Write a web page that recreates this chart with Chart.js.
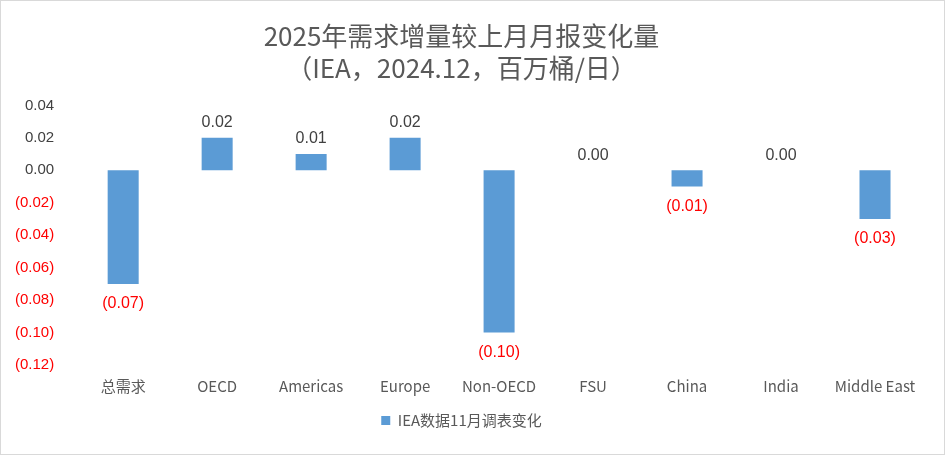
<!DOCTYPE html>
<html>
<head>
<meta charset="utf-8">
<script src="https://cdn.jsdelivr.net/npm/chart.js@4"></script>
<style>
  body { margin: 0; background: #fff; }
  #wrap { width: 943px; height: 453px; border: 1px solid #d9d9d9; }
</style>
</head>
<body>
<div id="wrap"><canvas id="myChart" width="943" height="453"></canvas></div>
<script>
'use strict';

let categories = ['总需求', 'OECD', 'Americas', 'Europe', 'Non-OECD', 'FSU', 'China', 'India', 'Middle East'];
let changes = [-0.07, 0.02, 0.01, 0.02, -0.10, 0.00, -0.01, 0.00, -0.03];
let seriesName = 'IEA数据11月调表变化';
let yMin = -0.12;
let yMax = 0.04;
let yStep = 0.02;

function fmt(v) {
  let s = Math.abs(v).toFixed(2);
  return v < -1e-9 ? '(' + s + ')' : s;
}

const labelPlugin = {
  id: 'barLabels',
  afterDatasetsDraw(chart) {
    let ctx = chart.ctx;
    let meta = chart.getDatasetMeta(0);
    ctx.save();
    ctx.font = '16px "Liberation Sans", Arial, sans-serif';
    ctx.textAlign = 'center';
    meta.data.forEach(function (bar, i) {
      let v = changes[i];
      if (v < 0) {
        ctx.fillStyle = '#ff0000';
        ctx.textBaseline = 'top';
        ctx.fillText(fmt(v), bar.x, bar.y + 12);
      } else {
        ctx.fillStyle = '#404040';
        ctx.textBaseline = 'bottom';
        ctx.fillText(fmt(v), bar.x, bar.y - 7);
      }
    });
    ctx.restore();
  }
};

new Chart(document.getElementById('myChart'), {
  type: 'bar',
  data: {
    labels: categories,
    datasets: [{
      label: seriesName,
      data: changes,
      backgroundColor: '#5b9bd5',
      barPercentage: 0.66,
      categoryPercentage: 0.5
    }]
  },
  options: {
    responsive: false,
    animation: false,
    layout: { padding: { left: 0, right: 22, top: 0, bottom: 16 } },
    plugins: {
      title: {
        display: true,
        text: ['2025年需求增量较上月月报变化量', '（IEA，2024.12，百万桶/日）'],
        color: '#595959',
        font: { size: 26, family: '"Noto Sans CJK SC", sans-serif', weight: 'normal' },
        padding: { top: 20, bottom: 22 },
        lineHeight: 1.45
      },
      legend: {
        position: 'bottom',
        labels: {
          color: '#595959',
          boxWidth: 9,
          boxHeight: 9,
          padding: 14,
          font: { size: 15, family: '"Noto Sans CJK SC", sans-serif' }
        }
      },
      tooltip: { enabled: false }
    },
    scales: {
      x: {
        grid: { display: false },
        border: { display: false },
        ticks: { color: '#595959', font: { size: 15, family: '"Noto Sans CJK SC", sans-serif' }, padding: 4 }
      },
      y: {
        min: yMin,
        max: yMax,
        grid: { display: false },
        border: { display: false },
        ticks: {
          stepSize: yStep,
          padding: 14,
          font: { size: 15, family: '"Liberation Sans", Arial, sans-serif' },
          color: function (c) { return c.tick.value < -1e-9 ? '#ff0000' : '#404040'; },
          callback: function (v) { return fmt(v); }
        }
      }
    }
  },
  plugins: [labelPlugin]
});
</script>
</body>
</html>
